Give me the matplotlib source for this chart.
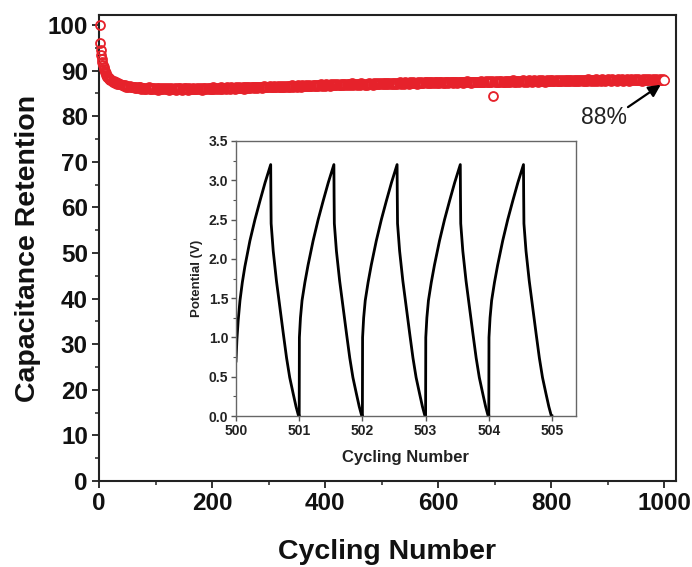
import numpy as np
import matplotlib
matplotlib.use("Agg")
import matplotlib.pyplot as plt
from matplotlib.ticker import MultipleLocator

plt.rcParams['font.family'] = ['Liberation Sans', 'DejaVu Sans']

# ---------------- main data: capacitance retention (%) ----------------
cycles_early = list(range(1, 21))
retention_early = [100.0, 96.0, 94.6, 93.4, 92.6, 91.9, 91.3, 90.8, 90.4, 90.0,
                   89.7, 89.4, 89.1, 88.9, 88.7, 88.5, 88.4, 88.2, 88.1, 88.0]

cycles_late = list(range(22, 1001, 2))
retention_late = [
    87.9, 87.6, 87.7, 87.3, 87.4, 87.1, 87.2, 87.0, 87.1, 86.8, 86.9, 86.7, 86.8, 86.5, 86.7, 86.4, 86.6, 86.3, 86.5, 86.3, 86.4, 86.2, 86.4, 86.1, 86.3,
    86.3, 86.0, 86.2, 86.1, 85.9, 86.2, 86.0, 86.1, 86.3, 85.9, 86.0, 86.2, 85.9, 86.1, 86.0, 86.2, 85.8, 86.1, 86.0, 85.9, 86.2, 86.0, 86.1, 85.9, 86.0,
    86.1, 85.8, 86.0, 86.2, 85.9, 86.0, 86.1, 85.8, 86.0, 86.2, 85.9, 86.1, 85.8, 86.0, 86.1, 85.9, 86.2, 86.0, 85.8, 86.1, 86.0, 85.9, 86.2, 86.0, 85.9,
    86.0, 86.2, 85.9, 86.1, 86.0, 85.8, 86.2, 86.0, 86.1, 85.9, 86.2, 86.0, 86.1, 85.9, 86.0, 86.3, 86.0, 86.1, 85.9, 86.2, 86.1, 86.0, 86.3, 86.0, 86.1,
    86.2, 86.0, 86.3, 86.1, 86.2, 85.9, 86.3, 86.1, 86.2, 86.0, 86.3, 86.2, 86.1, 86.4, 86.1, 86.2, 86.3, 86.0, 86.4, 86.2, 86.3, 86.1, 86.4, 86.2, 86.3,
    86.4, 86.2, 86.3, 86.5, 86.2, 86.4, 86.3, 86.5, 86.2, 86.4, 86.6, 86.3, 86.4, 86.5, 86.3, 86.6, 86.4, 86.5, 86.3, 86.6, 86.4, 86.5, 86.7, 86.4, 86.5,
    86.6, 86.4, 86.5, 86.7, 86.5, 86.6, 86.4, 86.7, 86.5, 86.6, 86.8, 86.5, 86.6, 86.7, 86.5, 86.8, 86.6, 86.7, 86.5, 86.8, 86.6, 86.7, 86.9, 86.6, 86.7,
    86.8, 86.6, 86.7, 86.9, 86.7, 86.8, 86.6, 86.9, 86.7, 86.8, 87.0, 86.7, 86.8, 86.9, 86.7, 87.0, 86.8, 86.9, 86.7, 87.0, 86.8, 86.9, 87.0, 86.8, 86.9,
    87.0, 86.8, 86.9, 87.1, 86.8, 87.0, 86.9, 87.1, 86.8, 87.0, 87.1, 86.9, 87.0, 87.2, 86.9, 87.0, 87.1, 86.9, 87.1, 87.0, 86.9, 87.2, 87.0, 87.1, 86.9,
    87.1, 86.9, 87.0, 87.2, 87.0, 87.1, 86.9, 87.2, 87.0, 87.1, 87.3, 87.0, 87.1, 87.2, 87.0, 87.3, 87.1, 87.2, 87.0, 87.3, 87.1, 87.2, 87.0, 87.3, 87.1,
    87.2, 87.1, 87.3, 87.0, 87.2, 87.4, 87.1, 87.3, 87.2, 87.0, 87.4, 87.2, 87.3, 87.1, 87.4, 87.2, 87.3, 87.5, 87.2, 87.3, 87.1, 87.4, 87.3, 87.2, 87.4,
    87.3, 87.2, 87.4, 87.5, 87.2, 87.4, 87.3, 87.5, 87.2, 87.4, 87.3, 87.5, 87.4, 87.2, 87.5, 87.3, 87.4, 87.6, 87.3, 87.4, 87.2, 87.5, 87.4, 87.3, 87.5,
    87.4, 87.6, 87.3, 87.5, 87.4, 87.6, 87.3, 87.5, 87.4, 87.6, 87.5, 87.3, 87.6, 87.4, 87.5, 87.7, 87.4, 87.5, 87.3, 87.6, 87.5, 87.4, 87.6, 87.5, 87.4,
    87.6, 87.5, 87.7, 87.4, 87.6, 87.5, 87.7, 87.6, 87.4, 87.7, 87.5, 87.6, 87.7, 84.4, 87.5, 87.7, 87.6, 87.5, 87.8, 87.6, 87.7, 87.5, 87.6, 87.8, 87.6,
    87.7, 87.5, 87.8, 87.6, 87.7, 87.9, 87.6, 87.7, 87.5, 87.8, 87.7, 87.6, 87.8, 87.7, 87.9, 87.6, 87.7, 87.8, 87.6, 87.9, 87.7, 87.8, 87.6, 87.7, 87.9,
    87.7, 87.8, 87.6, 87.9, 87.7, 87.8, 87.9, 87.7, 87.8, 87.6, 87.9, 87.8, 87.7, 87.9, 87.8, 88.0, 87.7, 87.8, 87.9, 87.7, 87.8, 88.0, 87.8, 87.7, 87.9,
    87.8, 87.9, 87.7, 88.0, 87.8, 87.9, 87.7, 88.0, 87.8, 87.9, 87.8, 88.0, 87.7, 87.9, 87.8, 88.0, 87.9, 87.8, 88.0, 87.7, 87.9, 87.8, 88.1, 87.9, 87.8,
    87.9, 88.0, 87.8, 87.9, 88.1, 87.8, 88.0, 87.9, 87.8, 88.1, 87.9, 88.0, 87.8, 87.9, 88.1, 87.9, 88.0, 87.8, 88.1, 87.9, 88.0, 87.9, 87.8, 88.1, 87.9,
    88.0, 87.9, 88.1, 87.8, 88.0, 87.9, 88.1, 88.0, 87.8, 88.0, 88.1, 87.9, 88.0, 88.2, 87.9, 88.0, 88.1, 87.9, 88.0, 87.8, 88.1, 88.0, 87.9, 88.1, 88.0,
    88.0, 88.1, 87.9, 88.0, 88.2, 87.9, 88.0, 88.1, 87.9, 88.0, 88.1, 88.0, 87.9, 88.1, 88.0,
]

# ---------------- inset data: galvanostatic charge/discharge ----------------
cycle_starts = [500, 501, 502, 503, 504]
first_charge_t = [0.0, 0.015, 0.035, 0.063, 0.10, 0.14, 0.22, 0.30, 0.38, 0.46, 0.549]
first_charge_v = [0.70, 0.98, 1.22, 1.47, 1.70, 1.90, 2.23, 2.50, 2.74, 2.97, 3.20]
charge_t = [0.0, 0.003, 0.02, 0.045, 0.09, 0.14, 0.22, 0.30, 0.38, 0.46, 0.549]
charge_v = [0.0, 1.00, 1.25, 1.47, 1.70, 1.92, 2.23, 2.50, 2.74, 2.97, 3.20]
discharge_t = [0.552, 0.556, 0.589, 0.64, 0.695, 0.75, 0.80, 0.85, 0.906, 0.95, 0.99, 1.0]
discharge_v = [2.80, 2.45, 2.10, 1.72, 1.38, 1.04, 0.74, 0.49, 0.28, 0.12, 0.0, 0.0]

inset_xticks = [500, 501, 502, 503, 504, 505]
inset_yticks = [0.0, 0.5, 1.0, 1.5, 2.0, 2.5, 3.0, 3.5]

# ---------------- figure ----------------
W, H = 692, 567
fig = plt.figure(figsize=(W / 100, H / 100), dpi=100)
ax = fig.add_axes([99 / W, 1 - 481 / H, (676 - 99) / W, (481 - 15) / H])

red = '#e6222b'
cyc = cycles_early + cycles_late
ret = retention_early + retention_late
ax.plot(cyc, ret, linestyle='none', marker='o', markersize=6.4,
        markerfacecolor='none', markeredgecolor=red, markeredgewidth=1.35,
        clip_on=False, zorder=3)
# the last measured point sits on top of the band
ax.plot(cyc[-1:], ret[-1:], linestyle='none', marker='o', markersize=6.6,
        markerfacecolor='white', markeredgecolor=red, markeredgewidth=1.0,
        clip_on=False, zorder=4)

ax.set_xlim(0, 1021)
ax.set_ylim(0, 102.2)
ax.xaxis.set_major_locator(MultipleLocator(200))
ax.xaxis.set_minor_locator(MultipleLocator(100))
ax.yaxis.set_major_locator(MultipleLocator(10))
ax.yaxis.set_minor_locator(MultipleLocator(5))
ax.tick_params(which='major', direction='out', length=5, width=1.3, colors='#222222',
               labelsize=17.5, labelcolor='#111111', pad=3)
ax.tick_params(which='minor', direction='out', length=3, width=1.1, colors='#222222')
for lab in ax.get_xticklabels() + ax.get_yticklabels():
    lab.set_fontweight('bold')
for s in ax.spines.values():
    s.set_linewidth(1.5)
    s.set_color('#222222')

ax.set_xlabel('Cycling Number', fontsize=20.5, fontweight='bold', color='#111111', labelpad=17)
ax.set_ylabel('Capacitance Retention', fontsize=20.5, fontweight='bold', color='#111111', labelpad=5)

# annotation 88%
ax.text(894, 79.8, '88%', fontsize=16.5, color='#222222', ha='center', va='center')
ax.annotate('', xy=(994, 86.9), xytext=(936, 82.0),
            arrowprops=dict(arrowstyle='-|>', color='black', lw=1.6, mutation_scale=18,
                            shrinkA=0, shrinkB=0))

# ---------------- inset ----------------
ins = fig.add_axes([236 / W, 1 - 416 / H, (576 - 236) / W, (416 - 141) / H])
for k, n in enumerate(cycle_starts):
    if k == 0:
        ct, cv = first_charge_t, first_charge_v
    else:
        ct, cv = charge_t, charge_v
    xs = [n + t for t in ct] + [n + t for t in discharge_t]
    ys = list(cv) + list(discharge_v)
    ins.plot(xs, ys, color='black', lw=2.0, solid_joinstyle='round')

ins.set_xlim(500, 505.38)
ins.set_ylim(0, 3.5)
ins.set_xticks(inset_xticks)
ins.set_xticklabels([str(v) for v in inset_xticks])
ins.set_yticks(inset_yticks)
ins.set_yticklabels([f'{v:.1f}' for v in inset_yticks])
ins.yaxis.set_minor_locator(MultipleLocator(0.25))
ins.tick_params(which='major', direction='out', length=3.5, width=1.0, colors='#555555',
                labelsize=10, labelcolor='#222222', pad=2)
ins.tick_params(which='minor', direction='out', length=2, width=0.8, colors='#555555')
for lab in ins.get_xticklabels() + ins.get_yticklabels():
    lab.set_fontweight('bold')
for s in ins.spines.values():
    s.set_linewidth(1.0)
    s.set_color('#666666')
ins.set_xlabel('Cycling Number', fontsize=12, fontweight='bold', color='#222222', labelpad=9)
ins.set_ylabel('Potential (V)', fontsize=9.5, fontweight='bold', color='#222222', labelpad=4)

fig.savefig('out.png', dpi=100)
